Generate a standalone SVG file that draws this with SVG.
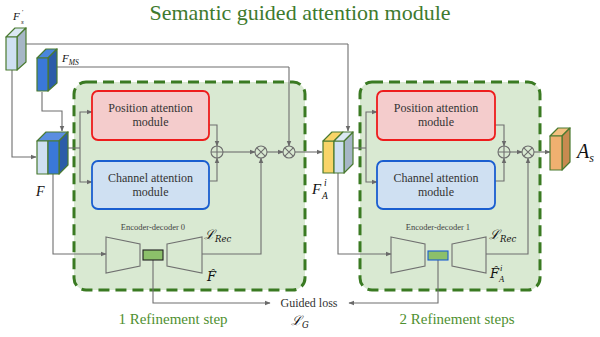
<svg xmlns="http://www.w3.org/2000/svg" width="600" height="337" viewBox="0 0 600 337">
<defs>
<marker id="ar" viewBox="0 0 10 10" refX="9" refY="5" markerWidth="6" markerHeight="6" orient="auto" markerUnits="userSpaceOnUse">
<path d="M0,1 L10,5 L0,9 z" fill="#6a6a6a"/>
</marker>
<style>
.panel{fill:#d9e9d2;stroke:#3a7a22;stroke-width:3;stroke-dasharray:11 6}
.pos{fill:#f4cccc;stroke:#ee1c1c;stroke-width:1.8}
.ch{fill:#cfe0f2;stroke:#1a5ed0;stroke-width:1.8}
.mt{font-size:12px;fill:#333;text-anchor:middle}
.ln{fill:none;stroke:#6e6e6e;stroke-width:1.1}
.la{fill:none;stroke:#6e6e6e;stroke-width:1.1;marker-end:url(#ar)}
.op{fill:none;stroke:#6e6e6e;stroke-width:1.1}
.trap{fill:none;stroke:#707070;stroke-width:1.1}
.cube{stroke:#4a7a30;stroke-width:1.2;stroke-linejoin:round}
.math{font-style:italic;fill:#111}
.grn{fill:#4f9030;text-anchor:middle}
.sm{font-size:8.5px;fill:#444;text-anchor:middle}
</style>
</defs>
<rect width="600" height="337" fill="#fff"/>
<g font-family="Liberation Serif, DejaVu Serif, serif">
<text x="300" y="20" font-size="22" fill="#3e7a2e" text-anchor="middle">Semantic guided attention module</text>

<g id="panel1"><rect class="panel" x="74" y="82" width="231" height="208" rx="12"/></g>
<g id="panel2"><rect class="panel" x="360" y="82" width="180" height="208" rx="12"/></g>

<g id="connectors">
<polyline class="ln" points="26,44 348,44"/>
<polyline class="la" points="348,44 348,131"/>
<polyline class="ln" points="57,67 289,67"/>
<polyline class="la" points="289,67 289,146"/>
<polyline class="la" points="42,92 42,111 62,111 62,131"/>
<polyline class="la" points="12,70 12,157 36,157"/>
<polyline class="ln" points="68,148 80,148"/>
<polyline class="la" points="80,148 80,112 92,112"/>
<polyline class="la" points="80,148 80,182 92,182"/>
<polyline class="la" points="53,174 53,254 106,254"/>
<polyline class="la" points="209,125 217,125 217,146"/>
<polyline class="la" points="209,181 217,181 217,158"/>
<polyline class="la" points="223,152 255,152"/>
<polyline class="la" points="267,152 283,152"/>
<polyline class="la" points="295,152 322,152"/>
<polyline class="la" points="202,254 261,254 261,158"/>
<polyline class="la" points="153,260 153,303 270,303"/>
<polyline class="ln" points="353,148 366,148"/>
<polyline class="la" points="366,148 366,112 377,112"/>
<polyline class="la" points="366,148 366,182 377,182"/>
<polyline class="la" points="338,173 338,254 391,254"/>
<polyline class="la" points="495,125 504,125 504,146"/>
<polyline class="la" points="495,181 504,181 504,158"/>
<polyline class="la" points="510,152 522,152"/>
<polyline class="la" points="486,254 528,254 528,158"/>
<polyline class="la" points="534,152 550,152"/>
<polyline class="la" points="438,260 438,303 349,303"/>
</g>

<g id="Fs">
<polygon class="cube" points="6,37 17,37 26,28 15,28" fill="#dbe8f3"/>
<polygon class="cube" points="17,37 26,28 26,62 17,70" fill="#a6b6c6"/>
<rect class="cube" x="6" y="37" width="11" height="33" fill="#cfe0f2"/>
<text class="math" x="13" y="20" font-size="11">F</text>
<text class="math" x="21.5" y="14" font-size="7">′</text>
<text class="math" x="21" y="23.5" font-size="7">s</text>
</g>
<g id="FMS">
<polygon class="cube" points="37,58 48,58 57,49 46,49" fill="#4a86dc"/>
<polygon class="cube" points="48,58 57,49 57,83 48,91" fill="#2c5ca8"/>
<rect class="cube" x="37" y="58" width="11" height="33" fill="#3a78d8"/>
<text class="math" x="62" y="62" font-size="11">F<tspan font-size="7.5" dy="3">MS</tspan></text>
</g>
<g id="F">
<polygon class="cube" points="37,141 59,141 68,132 46,132" fill="#5a8ee0"/>
<polygon class="cube" points="59,141 68,132 68,165 59,174" fill="#2c5ca8"/>
<rect class="cube" x="37" y="141" width="11" height="33" fill="#cfe0f2"/>
<rect class="cube" x="48" y="141" width="11" height="33" fill="#3a78d8"/>
<text class="math" x="36" y="196" font-size="14">F</text>
</g>

<g id="pos1"><rect class="pos" x="92" y="91" width="117" height="49" rx="6"/>
<text class="mt" x="150.5" y="112">Position attention</text><text class="mt" x="150.5" y="126">module</text></g>
<g id="ch1"><rect class="ch" x="92" y="161" width="117" height="48" rx="6"/>
<text class="mt" x="150.5" y="182">Channel attention</text><text class="mt" x="150.5" y="196">module</text></g>
<g id="plus1"><circle class="op" cx="217" cy="152" r="6"/><path class="op" d="M211,152H223M217,146V158"/></g>
<g id="mul1"><circle class="op" cx="261" cy="152" r="6"/><path class="op" d="M256.8,147.8L265.2,156.2M265.2,147.8L256.8,156.2"/></g>
<g id="mul2"><circle class="op" cx="289" cy="152" r="6"/><path class="op" d="M284.8,147.8L293.2,156.2M293.2,147.8L284.8,156.2"/></g>

<g id="ed0">
<text class="sm" x="153" y="230">Encoder-decoder 0</text>
<polygon class="trap" points="106,237 140,244 140,266 106,273"/>
<rect x="143" y="250" width="20" height="10" fill="#8cc06a" stroke="#222" stroke-width="1.1"/>
<polygon class="trap" points="167,244 202,237 202,273 167,266"/>
<text class="math" x="204" y="239" font-size="13" font-family="DejaVu Serif, serif">ℒ<tspan font-size="8.5" dy="3">Rec</tspan></text>
<text class="math" x="207" y="281" font-size="13" font-family="DejaVu Serif, serif">F̂</text>
</g>

<g id="FA">
<polygon class="cube" points="344,141 353,132 353,164 344,173" fill="#a6b6c6"/>
<rect class="cube" x="323" y="141" width="11" height="32" fill="#f8d468"/>
<rect class="cube" x="334" y="141" width="10" height="32" fill="#cfe0f2"/>
<polygon class="cube" points="323,141 334,141 343,132 332,132" fill="#f8d468"/>
<polygon class="cube" points="334,141 344,141 353,132 343,132" fill="#dbe8f3"/>
<text class="math" x="312" y="194" font-size="15">F</text>
<text class="math" x="324" y="186" font-size="9.5">i</text>
<text class="math" x="322" y="199" font-size="9.5">A</text>
</g>

<g id="pos2"><rect class="pos" x="377" y="91" width="118" height="49" rx="6"/>
<text class="mt" x="436" y="112">Position attention</text><text class="mt" x="436" y="126">module</text></g>
<g id="ch2"><rect class="ch" x="377" y="161" width="118" height="48" rx="6"/>
<text class="mt" x="436" y="182">Channel attention</text><text class="mt" x="436" y="196">module</text></g>
<g id="plus2"><circle class="op" cx="504" cy="152" r="6"/><path class="op" d="M498,152H510M504,146V158"/></g>
<g id="mul3"><circle class="op" cx="528" cy="152" r="6"/><path class="op" d="M523.8,147.8L532.2,156.2M532.2,147.8L523.8,156.2"/></g>

<g id="ed1">
<text class="sm" x="438" y="230">Encoder-decoder 1</text>
<polygon class="trap" points="391,237 425,244 425,266 391,273"/>
<rect x="428" y="251" width="20" height="9" fill="#8cc06a" stroke="#1a5ed0" stroke-width="1.1"/>
<polygon class="trap" points="452,244 486,237 486,273 452,266"/>
<text class="math" x="489" y="239" font-size="13" font-family="DejaVu Serif, serif">ℒ<tspan font-size="8.5" dy="3">Rec</tspan></text>
<text class="math" x="490" y="278" font-size="13" font-family="DejaVu Serif, serif">F̂</text>
<text class="math" x="500" y="271" font-size="8.5">i</text>
<text class="math" x="499" y="282" font-size="8.5">A</text>
</g>

<g id="As">
<polygon class="cube" points="550,136 562,136 570,128 558,128" fill="#f4c080"/>
<polygon class="cube" points="562,136 570,128 570,162 562,170" fill="#c88a50"/>
<rect class="cube" x="550" y="136" width="12" height="34" fill="#f0b070"/>
<text class="math" x="577" y="158" font-size="20">A<tspan font-size="12" dy="4">s</tspan></text>
</g>

<g id="loss">
<text x="309" y="307" font-size="12" fill="#333" text-anchor="middle">Guided loss</text>
<text class="math" x="291" y="325" font-size="13" font-family="DejaVu Serif, serif">ℒ<tspan font-size="8.5" dy="3">G</tspan></text>
</g>
<text class="grn" x="173" y="324" font-size="15">1 Refinement step</text>
<text class="grn" x="457" y="324" font-size="15">2 Refinement steps</text>
</g>
</svg>
